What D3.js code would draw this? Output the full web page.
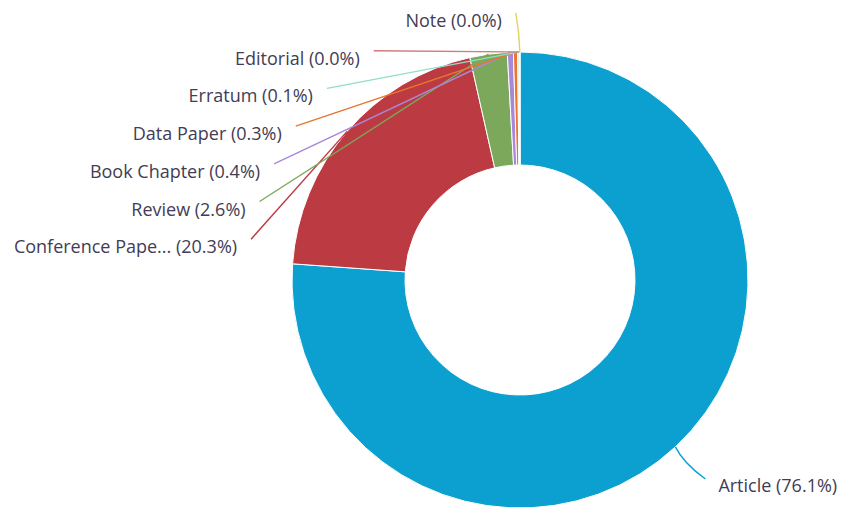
<!DOCTYPE html>
<html><head><meta charset="utf-8">
<script src="https://cdn.jsdelivr.net/npm/d3@7"></script>
<style>html,body{margin:0;padding:0;background:#fff;}svg{display:block;}</style>
</head><body>
<svg id="chart" width="844" height="509"></svg>
<script>
// ---- data ----
const categories = ["Article", "Conference Paper", "Review", "Book Chapter", "Data Paper", "Erratum", "Editorial", "Note"];
const shares = [76.13, 20.34, 2.64, 0.43, 0.30, 0.10, 0.04, 0.02];
const colors = ["#0ba0cf", "#bc3a42", "#7ba85a", "#a987d9", "#e8762e", "#8fe0c6", "#d27a7c", "#e2d25e"];

// ---- layout ----
const W = 844, H = 509;
const cx = 520, cy = 280, rOuter = 228, rInner = 115;
const labelR = 272, spacing = 37.7, topMin = 13;

const svg = d3.select("#chart");
const g = svg.append("g").attr("transform", `translate(${cx},${cy})`);

const total = d3.sum(shares);
const pie = d3.pie().sort(null).value(d => d.v);
const data = categories.map((c, i) => ({name: c, v: shares[i], color: colors[i]}));
const arcs = pie(data);
const arc = d3.arc().innerRadius(rInner).outerRadius(rOuter);

g.selectAll("path.slice").data(arcs).join("path")
  .attr("class", "slice")
  .attr("d", arc)
  .attr("fill", d => d.data.color)
  .attr("stroke", "#fff").attr("stroke-width", 1).attr("stroke-linejoin", "round");

// label layout
const fmt = d3.format(".1f");
const labelName = n => n.length > 15 ? n.slice(0, 15) + "..." : n;
arcs.forEach(a => {
  a.mid = (a.startAngle + a.endAngle) / 2;
  a.p0 = [rOuter * Math.sin(a.mid), -rOuter * Math.cos(a.mid)];
  a.lx = labelR * Math.sin(a.mid);
  a.ly = -labelR * Math.cos(a.mid);
  a.left = a.mid >= Math.PI;
  a.moved = false;
});
const left = arcs.filter(a => a.left).sort((a, b) => b.mid - a.mid);
let prev = null;
left.forEach((a, i) => {
  const minY = topMin - cy;
  if (i === 0) {
    if (a.ly < minY) { a.ly = minY; }
    a.lx -= 4;
  } else {
    const ny = Math.max(a.ly, prev.ly + spacing);
    if (ny !== a.ly) { a.ly = ny; a.moved = true; }
    a.lx = -Math.sqrt(Math.max(0, labelR * labelR - a.ly * a.ly));
  }
  prev = a;
});

// leader lines
g.selectAll("path.leader").data(arcs).join("path")
  .attr("class", "leader")
  .attr("fill", "none")
  .attr("stroke", d => d.data.color)
  .attr("stroke-width", 1.4)
  .attr("d", d => {
    const [x0, y0] = d.p0;
    if (d.moved) return `M${x0},${y0}L${d.lx},${d.ly}`;
    const c = [x0 + (d.lx - x0) * 0.15 + Math.sin(d.mid) * 5, y0 + (d.ly - y0) * 0.5];
    return `M${x0},${y0}Q${c[0]},${c[1]} ${d.lx},${d.ly}`;
  });

// labels
g.selectAll("text.lbl").data(arcs).join("text")
  .attr("class", "lbl")
  .attr("x", d => d.left ? d.lx - 14 : d.lx + 13)
  .attr("y", d => d.left ? d.ly + 7 : d.ly + 6)
  .attr("text-anchor", d => d.left ? "end" : "start")
  .attr("dominant-baseline", "central")
  .attr("font-family", "'Open Sans', 'Noto Sans', sans-serif")
  .attr("font-size", 18)
  .attr("fill", "#423c55")
  .text(d => `${labelName(d.data.name)} (${fmt(d.data.v / total * 100)}%)`);
</script>
</body></html>
